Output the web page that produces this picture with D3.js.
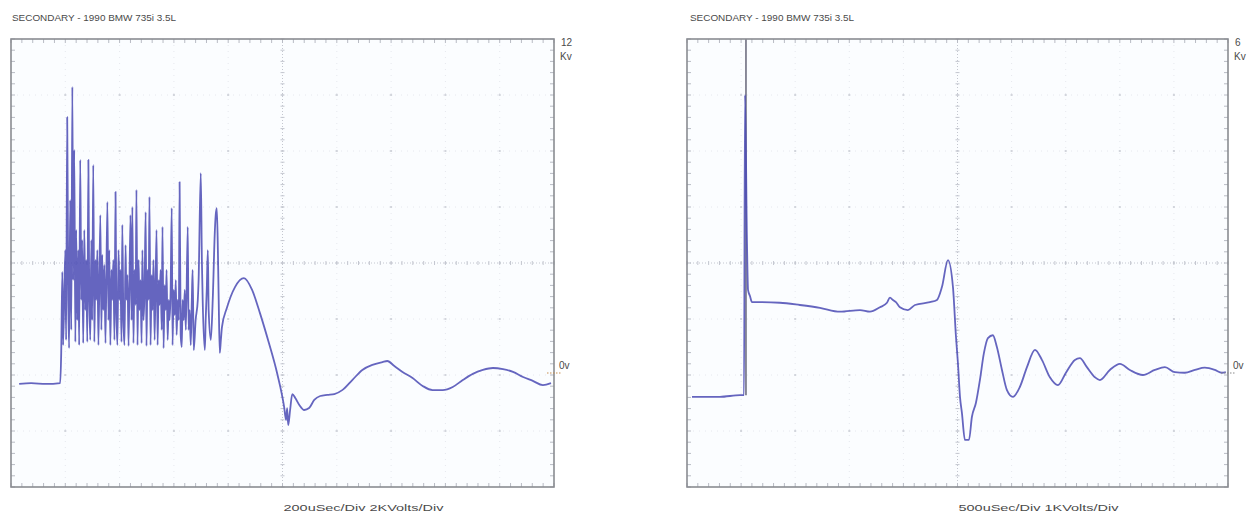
<!DOCTYPE html>
<html>
<head>
<meta charset="utf-8">
<script src="https://cdn.jsdelivr.net/npm/d3@7/dist/d3.min.js"></script>
<style>
  html, body { margin: 0; padding: 0; background: #ffffff; }
  svg { display: block; }
  text { font-family: "Liberation Sans", Arial, sans-serif; fill: #4a4a4a; }
</style>
</head>
<body>
<svg id="chart" width="1256" height="517"></svg>
<script>
// ---------------- DATA ----------------
const titles = ["SECONDARY - 1990 BMW 735i 3.5L", "SECONDARY - 1990 BMW 735i 3.5L"];
const scaleLabels = ["200uSec/Div  2KVolts/Div", "500uSec/Div  1KVolts/Div"];
const topLabels = ["12", "6"];
const unitLabel = "Kv";
const zeroLabel = "0v";
const timeDomains = [[0, 2000], [0, 5000]];   // µs across 10 divisions
const voltDomains = [[-4, 12], [-2, 6]];      // kV across 8 divisions

// Left trace (200 µs/div, 2 kV/div)
const leftTimeUs = [30,74,129,181,185,189,192,200,203,207,211,214,218,222,226,229,233,237,240,244,248,251,255,259,262,266,270,274,277,281,285,288,292,296,299,303,307,311,314,318,322,329,333,336,340,344,348,355,359,362,366,370,373,377,381,385,388,392,396,400,403,407,410,414,418,422,425,429,433,440,444,447,451,455,459,462,466,470,473,477,481,484,488,492,496,499,503,507,510,514,518,521,525,529,536,540,544,547,551,555,558,562,566,570,573,577,581,584,588,592,595,599,603,607,610,614,618,621,625,629,632,636,640,644,651,654,658,662,666,669,673,680,688,691,699,703,706,714,717,721,725,728,736,743,751,754,758,762,765,769,773,777,795,825,858,888,917,950,980,1006,1013,1017,1021,1028,1036,1047,1062,1080,1098,1117,1139,1165,1191,1220,1257,1294,1331,1368,1386,1412,1442,1479,1516,1553,1590,1627,1664,1701,1738,1775,1812,1849,1886,1922,1959,1989];
const leftKv = [-0.32,-0.29,-0.32,-0.29,0.82,3.68,1.07,4.46,1.25,9.21,2.68,0.96,6.25,1.61,10.29,3.39,8.04,1.18,5.18,1.96,4.46,1.07,7.68,2.68,4.82,1.14,5.18,2.32,4.11,1.18,7.68,3.04,1.25,4.82,1.96,7.50,1.18,4.11,2.68,4.46,1.07,5.71,1.61,4.29,2.32,3.93,1.14,6.18,1.96,4.46,1.07,3.75,2.68,4.11,1.25,6.54,2.32,1.07,4.46,2.68,3.75,1.18,5.36,1.96,1.07,4.64,2.68,3.57,1.04,5.71,1.96,6.00,1.14,3.75,2.50,6.61,1.07,4.11,2.32,3.39,1.14,4.46,1.96,3.04,5.82,1.04,3.75,2.68,6.36,1.07,3.57,2.32,4.11,1.25,5.18,1.07,3.39,2.50,3.75,1.61,5.29,0.96,3.21,2.32,3.75,1.25,2.68,1.96,3.04,5.96,1.07,3.04,2.14,3.39,1.43,2.68,1.96,6.89,1.43,1.00,2.68,1.96,3.04,1.61,5.29,1.61,2.32,1.07,2.68,3.75,0.89,1.96,2.68,3.39,7.21,4.11,2.68,0.89,1.96,3.04,4.46,2.32,1.25,2.68,5.18,5.71,5.96,4.46,2.68,0.79,1.25,1.71,2.39,3.14,3.46,3.04,2.21,1.14,0.07,-1.14,-1.61,-1.18,-1.79,-1.25,-0.68,-0.82,-1.07,-1.25,-1.18,-0.89,-0.75,-0.71,-0.68,-0.54,-0.18,0.18,0.36,0.46,0.50,0.32,0.11,-0.11,-0.39,-0.54,-0.54,-0.43,-0.18,0.04,0.18,0.25,0.21,0.11,-0.07,-0.21,-0.36,-0.29];

// Right trace (500 µs/div, 1 kV/div)
const rightTimeUs = [46,305,490,517,527,536,554,564,582,601,675,859,1044,1229,1414,1599,1691,1783,1848,1876,1903,1931,1968,2042,2107,2245,2310,2356,2412,2458,2486,2504,2523,2541,2569,2606,2633,2670,2707,2744,2781,2827,2864,2911,2957,3012,3077,3142,3216,3280,3354,3428,3502,3585,3631,3696,3770,3816,3908,4001,4093,4213,4324,4417,4509,4601,4694,4786,4879,4943,4980];
const rightKv = [-0.39,-0.39,-0.36,-0.36,-0.36,5.0,2.41,1.52,1.41,1.30,1.30,1.29,1.25,1.20,1.13,1.16,1.13,1.21,1.29,1.38,1.34,1.30,1.21,1.16,1.25,1.30,1.34,1.57,2.05,1.57,0.68,0.21,-0.39,-0.68,-1.16,-1.16,-0.75,-0.50,-0.09,0.39,0.66,0.71,0.50,0.09,-0.27,-0.39,-0.21,0.14,0.45,0.27,-0.04,-0.18,0.04,0.27,0.30,0.14,-0.04,-0.09,0.09,0.20,0.09,0.00,0.09,0.14,0.05,0.04,0.09,0.13,0.09,0.04,0.05];
// Firing line that runs off the top of the right screen
const rightFiringUs = 545;
const rightFiringKv = [-0.36, 6.0];

// ---------------- LAYOUT ----------------
const panels = [
  { x0: 11, x1: 554, y0: 39, y1: 487, tx: 12, zeroMarkColor: "#c89050" },
  { x0: 687, x1: 1228, y0: 39, y1: 487, tx: 690, zeroMarkColor: "#8a8a8a" }
];
const series = [
  { t: leftTimeUs, v: leftKv },
  { t: rightTimeUs, v: rightKv }
];

const svg = d3.select("#chart");
svg.append("rect").attr("width", 1256).attr("height", 517).attr("fill", "#ffffff");

panels.forEach((p, i) => {
  const x = d3.scaleLinear().domain(timeDomains[i]).range([p.x0, p.x1]);
  const y = d3.scaleLinear().domain(voltDomains[i]).range([p.y1, p.y0]);
  const g = svg.append("g");

  const td = timeDomains[i], vd = voltDomains[i];
  const xDiv = d3.range(0, 11).map(k => td[0] + k * (td[1] - td[0]) / 10);
  const yDiv = d3.range(0, 9).map(k => vd[0] + k * (vd[1] - vd[0]) / 8);
  const xMinor = d3.range(0, 51).map(k => td[0] + k * (td[1] - td[0]) / 50);
  const yMinor = d3.range(0, 41).map(k => vd[0] + k * (vd[1] - vd[0]) / 40);
  const xMid = xDiv[5], yMid = yDiv[4];

  // background
  g.append("rect").attr("x", p.x0).attr("y", p.y0)
    .attr("width", p.x1 - p.x0).attr("height", p.y1 - p.y0)
    .attr("fill", "#fbfdff");

  // faint grid lines (not center)
  g.selectAll(".vg").data(xDiv.slice(1, 10).filter((d, k) => k !== 4)).join("line")
    .attr("x1", d => x(d)).attr("x2", d => x(d)).attr("y1", p.y0).attr("y2", p.y1)
    .attr("stroke", "#e6e8ee").attr("stroke-width", 1).attr("stroke-dasharray", "1,5");
  g.selectAll(".hg").data(yDiv.slice(1, 8).filter((d, k) => k !== 3)).join("line")
    .attr("x1", p.x0).attr("x2", p.x1).attr("y1", d => y(d)).attr("y2", d => y(d))
    .attr("stroke", "#e6e8ee").attr("stroke-width", 1).attr("stroke-dasharray", "1,5");

  // intersection marks
  const inter = [];
  xDiv.slice(1, 10).forEach(a => yDiv.slice(1, 8).forEach(b => inter.push([a, b])));
  g.selectAll(".im").data(inter).join("rect")
    .attr("x", d => x(d[0]) - 1).attr("y", d => y(d[1]) - 1)
    .attr("width", 2).attr("height", 2).attr("fill", "#d2d5dc");

  // center cross lines
  g.append("line").attr("x1", x(xMid)).attr("x2", x(xMid)).attr("y1", p.y0).attr("y2", p.y1)
    .attr("stroke", "#c4c7d0").attr("stroke-width", 1).attr("stroke-dasharray", "1,2");
  g.append("line").attr("x1", p.x0).attr("x2", p.x1).attr("y1", y(yMid)).attr("y2", y(yMid))
    .attr("stroke", "#c4c7d0").attr("stroke-width", 1).attr("stroke-dasharray", "1,2");
  g.selectAll(".cxt").data(xMinor).join("line")
    .attr("x1", d => x(d)).attr("x2", d => x(d)).attr("y1", y(yMid) - 2).attr("y2", y(yMid) + 2)
    .attr("stroke", "#c4c7d0").attr("stroke-width", 1);
  g.selectAll(".cyt").data(yMinor).join("line")
    .attr("x1", x(xMid) - 2).attr("x2", x(xMid) + 2).attr("y1", d => y(d)).attr("y2", d => y(d))
    .attr("stroke", "#c4c7d0").attr("stroke-width", 1);

  // edge minor ticks
  g.selectAll(".tt").data(xMinor).join("line")
    .attr("x1", d => x(d)).attr("x2", d => x(d)).attr("y1", p.y0).attr("y2", p.y0 + 4)
    .attr("stroke", "#b8bbc4").attr("stroke-width", 1);
  g.selectAll(".bt").data(xMinor).join("line")
    .attr("x1", d => x(d)).attr("x2", d => x(d)).attr("y1", p.y1 - 4).attr("y2", p.y1)
    .attr("stroke", "#b8bbc4").attr("stroke-width", 1);
  g.selectAll(".lt").data(yMinor).join("line")
    .attr("x1", p.x0).attr("x2", p.x0 + 4).attr("y1", d => y(d)).attr("y2", d => y(d))
    .attr("stroke", "#b8bbc4").attr("stroke-width", 1);
  g.selectAll(".rt").data(yMinor).join("line")
    .attr("x1", p.x1 - 4).attr("x2", p.x1).attr("y1", d => y(d)).attr("y2", d => y(d))
    .attr("stroke", "#b8bbc4").attr("stroke-width", 1);

  // trace
  const s = series[i];
  const pts = s.t.map((t, k) => [t, s.v[k]]);
  const line = d3.line().x(d => x(d[0])).y(d => y(d[1])).curve(d3.curveMonotoneX);
  if (i === 1) {
    g.append("line")
      .attr("x1", x(rightFiringUs)).attr("x2", x(rightFiringUs))
      .attr("y1", y(rightFiringKv[0])).attr("y2", y(rightFiringKv[1]))
      .attr("stroke", "#6e6e80").attr("stroke-width", 1.6);
  }
  g.append("path").datum(pts)
    .attr("d", line)
    .attr("fill", "none")
    .attr("stroke", "#4a4ab4")
    .attr("stroke-width", 1.8)
    .attr("stroke-opacity", 0.85)
    .attr("stroke-linejoin", "round");

  // frame
  g.append("rect").attr("x", p.x0).attr("y", p.y0)
    .attr("width", p.x1 - p.x0).attr("height", p.y1 - p.y0)
    .attr("fill", "none").attr("stroke", "#8a8c92").attr("stroke-width", 1.6);

  // zero marker
  g.append("line").attr("x1", p.x1 - 7).attr("x2", p.x1 + 8)
    .attr("y1", y(0) - 2).attr("y2", y(0) - 2)
    .attr("stroke", p.zeroMarkColor).attr("stroke-width", 1.2).attr("stroke-dasharray", "1.5,1.5");

  // texts
  svg.append("text").attr("x", p.tx).attr("y", 21)
    .attr("font-size", 9).attr("fill", "#555")
    .attr("textLength", 164).attr("lengthAdjust", "spacingAndGlyphs")
    .text(titles[i]);
  svg.append("text").attr("x", p.x1 + 7).attr("y", 46)
    .attr("font-size", 10).text(topLabels[i]);
  svg.append("text").attr("x", p.x1 + 6).attr("y", 60)
    .attr("font-size", 10).text(unitLabel);
  svg.append("text").attr("x", p.x1 + 5).attr("y", y(0) - 6)
    .attr("font-size", 10).text(zeroLabel);
  svg.append("text").attr("x", x(xMid) + 1).attr("y", 511)
    .attr("font-size", 9.5).attr("fill", "#555")
    .attr("textLength", 160).attr("lengthAdjust", "spacingAndGlyphs")
    .text(scaleLabels[i]);
});
</script>
</body>
</html>
